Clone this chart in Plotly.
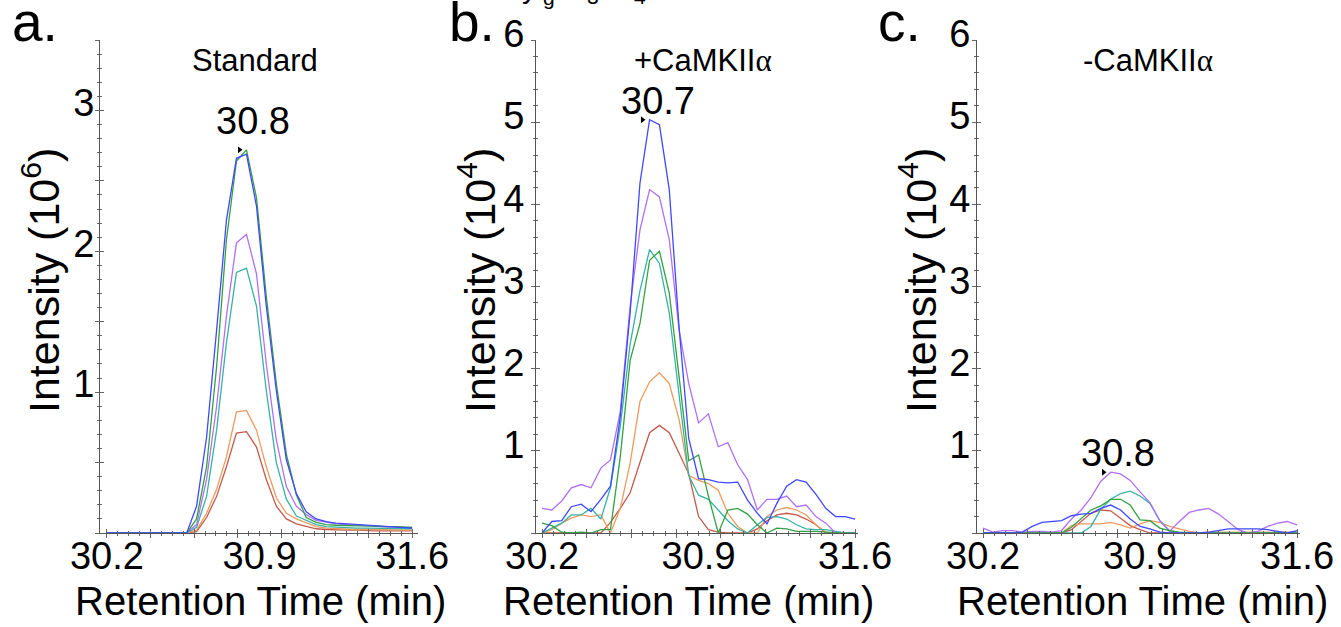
import plotly.graph_objects as go

W, H = 1341, 627

# Retention times (min) of the MS scans in each chromatogram
time_std = [30.2, 30.246, 30.291, 30.337, 30.383, 30.429, 30.474, 30.52, 30.566, 30.611,
            30.657, 30.703, 30.748, 30.794, 30.84, 30.886, 30.931, 30.977, 31.023, 31.069,
            31.114, 31.16, 31.206, 31.251, 31.297, 31.343, 31.389, 31.434, 31.48, 31.526,
            31.571, 31.6]
time_kin = [30.2, 30.244, 30.288, 30.331, 30.375, 30.419, 30.463, 30.506, 30.55, 30.594,
            30.638, 30.681, 30.725, 30.769, 30.813, 30.856, 30.9, 30.944, 30.988, 31.031,
            31.075, 31.119, 31.163, 31.206, 31.25, 31.294, 31.338, 31.381, 31.425, 31.469,
            31.513, 31.556, 31.6]

# a. Standard (intensity x 10^6), one list per fragment-ion transition
std_blue = [0, 0, 0, 0, 0, 0, 0, 0, 0, 0.19, 0.68, 1.44, 2.22, 2.66, 2.69, 2.32, 1.61, 1.01,
            0.52, 0.28, 0.15, 0.10, 0.08, 0.07, 0.065, 0.06, 0.055, 0.05, 0.045, 0.04, 0.04, 0.035]
std_green = [0, 0, 0, 0, 0, 0, 0, 0, 0, 0.10, 0.47, 1.18, 2.08, 2.64, 2.72, 2.38, 1.68, 1.06,
             0.56, 0.27, 0.11, 0.075, 0.06, 0.055, 0.05, 0.05, 0.05, 0.045, 0.045, 0.045, 0.04, 0.04]
std_purple = [0, 0, 0, 0, 0, 0, 0, 0, 0, 0.06, 0.38, 0.90, 1.54, 2.06, 2.12, 1.84, 1.20, 0.66,
              0.33, 0.19, 0.13, 0.09, 0.075, 0.065, 0.06, 0.055, 0.05, 0.05, 0.045, 0.04, 0.04, 0.04]
std_teal = [0, 0, 0, 0, 0, 0, 0, 0, 0, 0.04, 0.26, 0.73, 1.35, 1.85, 1.88, 1.61, 1.01, 0.50,
            0.24, 0.12, 0.09, 0.06, 0.045, 0.04, 0.04, 0.035, 0.035, 0.035, 0.03, 0.03, 0.03, 0.03]
std_orange = [0, 0, 0, 0, 0, 0, 0, 0, 0, 0.02, 0.14, 0.31, 0.54, 0.86, 0.87, 0.73, 0.47, 0.25,
              0.14, 0.10, 0.075, 0.045, 0.035, 0.03, 0.03, 0.025, 0.025, 0.025, 0.02, 0.02, 0.02, 0.02]
std_red = [0, 0, 0, 0, 0, 0, 0, 0, 0, 0.01, 0.11, 0.26, 0.47, 0.71, 0.72, 0.61, 0.38, 0.19,
           0.10, 0.065, 0.045, 0.03, 0.025, 0.02, 0.02, 0.02, 0.015, 0.015, 0.015, 0.015, 0.015, 0.015]

# b. +CaMKIIa (intensity x 10^4)
plus_blue = [0, 0.14, 0.15, 0.32, 0.35, 0.26, 0.41, 0.57, 1.42, 2.68, 4.26, 5.03, 4.97, 4.18,
             2.5, 1.15, 0.66, 0.65, 0.62, 0.61, 0.62, 0.40, 0.24, 0.11, 0.36, 0.57, 0.65, 0.62,
             0.47, 0.30, 0.20, 0.20, 0.17]
plus_purple = [0.30, 0.28, 0.39, 0.55, 0.59, 0.55, 0.79, 0.89, 1.48, 2.76, 3.69, 4.18, 4.09, 3.57,
               2.47, 1.82, 1.34, 1.45, 1.05, 1.10, 0.83, 0.65, 0.28, 0.41, 0.41, 0.45, 0.32, 0.34,
               0.20, 0.12, 0.0, 0.0, 0.0]
plus_teal = [0, 0.06, 0.12, 0.22, 0.22, 0.30, 0.17, 0.55, 1.30, 2.30, 2.95, 3.45, 3.28, 2.68,
             1.70, 0.70, 0.46, 0.41, 0.28, 0.15, 0.05, 0.0, 0.10, 0.19, 0.20, 0.17, 0.10, 0.05,
             0.04, 0.04, 0.02, 0.0, 0.0]
plus_green = [0.12, 0.09, 0.01, 0.0, 0.01, 0.0, 0.04, 0.04, 0.93, 2.10, 2.55, 3.32, 3.43, 2.92,
              1.90, 0.88, 0.95, 0.45, 0.0, 0.28, 0.30, 0.23, 0.10, 0.0, 0.06, 0.05, 0.02, 0.02,
              0.02, 0.01, 0.0, 0.0, 0.0]
plus_orange = [0, 0.04, 0.12, 0.18, 0.22, 0.20, 0.22, 0.0, 0.30, 0.85, 1.60, 1.84, 1.95, 1.82,
               1.38, 0.70, 0.64, 0.60, 0.52, 0.24, 0.08, 0.0, 0.0, 0.20, 0.28, 0.31, 0.28, 0.22,
               0.10, 0.01, 0.0, 0.0, 0.0]
plus_red = [0, 0, 0, 0, 0, 0, 0, 0.13, 0.30, 0.49, 0.85, 1.22, 1.31, 1.22, 0.97, 0.72, 0.20,
            0.04, 0.01, 0, 0, 0, 0.05, 0.15, 0.22, 0.24, 0.22, 0.17, 0.10, 0, 0, 0, 0]

# c. -CaMKIIa (intensity x 10^4)
minus_blue = [0, 0, 0, 0, 0.01, 0.08, 0.13, 0.14, 0.15, 0.21, 0.23, 0.24, 0.30, 0.34, 0.28,
              0.17, 0.08, 0.05, 0.01, 0, 0, 0, 0, 0.01, 0.03, 0.05, 0.05, 0.05, 0.05, 0.04,
              0.02, 0.0, 0.03]
minus_purple = [0.06, 0.01, 0.03, 0.03, 0.01, 0.02, 0.02, 0.01, 0.03, 0.17, 0.28, 0.43, 0.63,
                0.74, 0.72, 0.64, 0.50, 0.37, 0.15, 0.02, 0.14, 0.25, 0.28, 0.30, 0.23, 0.14,
                0.04, 0.0, 0.02, 0.08, 0.12, 0.14, 0.10]
minus_teal = [0, 0, 0, 0, 0, 0, 0, 0, 0, 0, 0, 0.08, 0.29, 0.41, 0.48, 0.51, 0.45, 0.36, 0.15,
              0.03, 0, 0, 0, 0, 0, 0, 0, 0, 0, 0, 0, 0, 0]
minus_green = [0, 0, 0, 0, 0, 0, 0, 0, 0, 0.07, 0.18, 0.28, 0.33, 0.41, 0.41, 0.34, 0.16, 0.15,
               0.06, 0.03, 0.01, 0, 0, 0, 0, 0, 0, 0, 0, 0, 0, 0, 0]
minus_orange = [0, 0, 0, 0, 0, 0, 0, 0, 0, 0.09, 0.11, 0.11, 0.11, 0.13, 0.10, 0.06, 0.11, 0.15,
                0.13, 0.08, 0.05, 0.02, 0, 0.01, 0.01, 0.01, 0.01, 0.01, 0.01, 0.01, 0.01, 0.01, 0.01]
minus_red = [0, 0, 0, 0, 0, 0, 0, 0, 0, 0.04, 0.14, 0.24, 0.28, 0.27, 0.18, 0.09, 0.04, 0, 0, 0,
             0, 0, 0, 0, 0, 0, 0, 0, 0, 0, 0, 0, 0]

x_ticks = [30.2, 30.9, 31.6]
x_ticktext = ["30.2", "30.9", "31.6"]

# trace colours, drawn bottom to top
COLORS = ["#c25a4c", "#ee9a5e", "#36b2a6", "#b070f5", "#33a043", "#3f48ff"]
FONT = "Liberation Sans, Arial, sans-serif"
AXC = "#555555"
TKC = "#666666"
ALPHA = "<span style=\"font-family:Liberation Serif\">α</span>"

panels = [
    dict(letter="a.", title="Standard", time=time_std,
         series=[std_red, std_orange, std_teal, std_purple, std_green, std_blue],
         xpx=(100, 418), xr=(30.168, 31.627), yr=(0, 3.5), ytv=[1, 2, 3],
         ylong=0.5, yminor=0.1, exp="6", ystand=-3, yshift_lbl=-8, peak_dy=29, peak_dx=7,
         letter_x=10, title_x=255, ytitle_x=41, xtitle_x=260),
    dict(letter="b.", title="+CaMKII" + ALPHA, time=time_kin,
         series=[plus_red, plus_orange, plus_teal, plus_purple, plus_green, plus_blue],
         xpx=(536, 858), xr=(30.173, 31.613), yr=(0, 6), ytv=[1, 2, 3, 4, 5, 6],
         ylong=1, yminor=0.2, exp="4", ystand=3, yshift_lbl=-6, peak_dy=19, peak_dx=8,
         letter_x=447, title_x=703, ytitle_x=477, xtitle_x=688),
    dict(letter="c.", title="-CaMKII" + ALPHA, time=time_kin,
         series=[minus_red, minus_orange, minus_teal, minus_purple, minus_green, minus_blue],
         xpx=(977, 1300), xr=(30.173, 31.613), yr=(0, 6), ytv=[1, 2, 3, 4, 5, 6],
         ylong=1, yminor=0.2, exp="4", ystand=-2, yshift_lbl=-6, peak_dy=19, peak_dx=7,
         letter_x=876, title_x=1148, ytitle_x=918, xtitle_x=1142),
]

Y_TOP, Y_BOT = 40, 533


def ref(kind, n):
    return kind + ("" if n == 1 else str(n))


def axname(kind, n):
    return kind + "axis" + ("" if n == 1 else str(n))


def px(xp, yp):
    return xp / W, 1 - yp / H


fig = go.Figure()
layout = {}
annotations = []

for i, p in enumerate(panels, start=1):
    xr, yr = list(p["xr"]), list(p["yr"])
    for s, c in zip(p["series"], COLORS):
        fig.add_trace(go.Scatter(x=p["time"], y=s, mode="lines", line=dict(color=c, width=1.3),
                                 xaxis=ref("x", i), yaxis=ref("y", i),
                                 showlegend=False, hoverinfo="skip"))

    # apex of the most intense transition and its retention-time label
    best = max(p["series"], key=max)
    k = best.index(max(best))
    t_apex, v_apex = p["time"][k], best[k]
    fig.add_trace(go.Scatter(x=[t_apex - 0.032], y=[v_apex], mode="markers",
                             marker=dict(symbol="triangle-right", size=6, color="black"),
                             xaxis=ref("x", i), yaxis=ref("y", i),
                             showlegend=False, hoverinfo="skip"))
    annotations.append(dict(x=t_apex, y=v_apex, xref=ref("x", i), yref=ref("y", i),
                            text=f"{t_apex:.1f}", showarrow=False, xanchor="center",
                            yanchor="middle", xshift=p["peak_dx"], yshift=p["peak_dy"],
                            font=dict(size=38, color="black", family=FONT)))

    x0, x1 = p["xpx"]
    layout[axname("x", i)] = dict(
        domain=[x0 / W, x1 / W], range=xr, anchor=ref("y", i), showline=True,
        linecolor=AXC, linewidth=1, ticks="", tickmode="array", tickvals=x_ticks,
        ticktext=x_ticktext, tickfont=dict(size=38, color="black", family=FONT),
        ticklabelstandoff=-11, showgrid=False, zeroline=False, fixedrange=True,
        automargin=False)
    layout[axname("y", i)] = dict(
        domain=[1 - Y_BOT / H, 1 - Y_TOP / H], range=yr, anchor=ref("x", i), showline=True,
        linecolor=AXC, linewidth=1, ticks="", tickmode="array", tickvals=p["ytv"],
        ticktext=[str(v) for v in p["ytv"]], tickfont=dict(size=38, color="black", family=FONT),
        ticklabelstandoff=p["ystand"], ticklabelshift=p["yshift_lbl"], showgrid=False,
        zeroline=False, fixedrange=True, automargin=False)

    # tick marks crossing the axis lines: one overlay axis ticks outward, one inward
    for j, side in ((i + 3, "outside"), (i + 6, "inside")):
        layout[axname("x", j)] = dict(
            overlaying=ref("x", i), anchor=ref("y", i), range=xr, showline=False,
            showgrid=False, zeroline=False, showticklabels=False, ticks=side,
            tickmode="linear", tick0=30.2, dtick=0.2, ticklen=4, tickwidth=1, tickcolor=TKC,
            minor=dict(ticks=side, tickmode="linear", tick0=30.2, dtick=0.05, ticklen=2,
                       tickwidth=1, tickcolor=TKC, showgrid=False),
            fixedrange=True, automargin=False)
        layout[axname("y", j)] = dict(
            overlaying=ref("y", i), anchor=ref("x", i), range=yr, showline=False,
            showgrid=False, zeroline=False, showticklabels=False, ticks=side,
            tickmode="linear", tick0=0, dtick=p["ylong"], ticklen=4, tickwidth=1, tickcolor=TKC,
            minor=dict(ticks=side, tickmode="linear", tick0=0, dtick=p["yminor"], ticklen=2,
                       tickwidth=1, tickcolor=TKC, showgrid=False),
            fixedrange=True, automargin=False)
        fig.add_trace(go.Scatter(x=[None], y=[None], xaxis=ref("x", j), yaxis=ref("y", j),
                                 showlegend=False, hoverinfo="skip"))

    # panel letter, condition title and axis titles
    ax, ay = px(p["letter_x"], 22)
    annotations.append(dict(x=ax, y=ay, xref="paper", yref="paper", text=p["letter"],
                            showarrow=False, xanchor="left", yanchor="middle",
                            font=dict(size=55, color="black", family=FONT)))
    tx, ty = px(p["title_x"], 60)
    annotations.append(dict(x=tx, y=ty, xref="paper", yref="paper", text=p["title"],
                            showarrow=False, xanchor="center", yanchor="middle",
                            font=dict(size=31, color="black", family=FONT)))
    yx, yy = px(p["ytitle_x"], 281)
    annotations.append(dict(x=yx, y=yy, xref="paper", yref="paper",
                            text=f"Intensity (10<sup>{p['exp']}</sup>)", textangle=-90,
                            showarrow=False, xanchor="center", yanchor="middle",
                            font=dict(size=43, color="black", family=FONT)))
    xx, xy = px(p["xtitle_x"], 601)
    annotations.append(dict(x=xx, y=xy, xref="paper", yref="paper",
                            text="Retention Time (min)", showarrow=False,
                            xanchor="center", yanchor="middle",
                            font=dict(size=40, color="black", family=FONT)))

# caption running above the top edge: only the lowest strokes of these glyphs show
for frag, fx, fbottom, fsize in (("y", 529, 6, 30), ("g", 549, 11, 21),
                                 ("3", 593, 10, 21), ("4", 640, 10, 21)):
    cx, cy = px(fx, fbottom)
    annotations.append(dict(x=cx, y=cy, xref="paper", yref="paper", text=frag,
                            showarrow=False, xanchor="center", yanchor="bottom",
                            font=dict(size=fsize, color="black", family=FONT)))

fig.update_layout(
    width=W, height=H, margin=dict(l=0, r=0, t=0, b=0, pad=0, autoexpand=False),
    paper_bgcolor="white", plot_bgcolor="white", showlegend=False,
    font=dict(family=FONT, color="black"), annotations=annotations, **layout)

fig.write_html("out.html")
